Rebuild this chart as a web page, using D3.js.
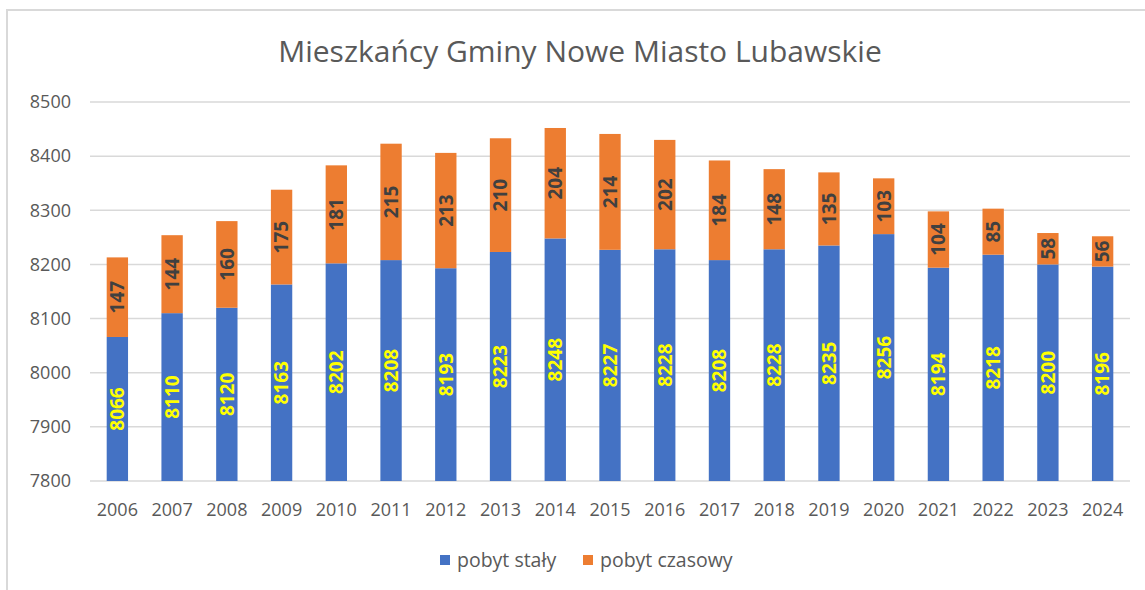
<!DOCTYPE html>
<html>
<head>
<meta charset="utf-8">
<script src="https://cdn.jsdelivr.net/npm/d3@7"></script>
<style>
  body { margin: 0; background: #fff; }
  text { font-family: "Open Sans", sans-serif; }
</style>
</head>
<body>
<div class="chart"></div>
<script>
const years = ["2006","2007","2008","2009","2010","2011","2012","2013","2014","2015","2016","2017","2018","2019","2020","2021","2022","2023","2024"];
const stale = [8066,8110,8120,8163,8202,8208,8193,8223,8248,8227,8228,8208,8228,8235,8256,8194,8218,8200,8196];
const czasowe = [147,144,160,175,181,215,213,210,204,214,202,184,148,135,103,104,85,58,56];
const yTicks = [7800,7900,8000,8100,8200,8300,8400,8500];
const seriesNames = ["pobyt stały", "pobyt czasowy"];
const colors = ["#4472C4", "#ED7D31"];

const W = 1145, H = 590;
const margin = {top: 102, left: 90, right: 15, bottom: 109};
const width = W - margin.left - margin.right,
    height = H - margin.top - margin.bottom;

const svg = d3.select(".chart")
    .append("svg")
    .attr("width", W)
    .attr("height", H);

// outer frame (only top and left edges visible in the picture)
svg.append("path")
    .attr("d", "M7,590 V10 H1145")
    .attr("fill", "none")
    .attr("stroke", "#d9d9d9")
    .attr("stroke-width", 2);

svg.append("text")
    .attr("x", 580)
    .attr("y", 62)
    .attr("text-anchor", "middle")
    .attr("font-size", 30)
    .attr("fill", "#595959")
    .text("Mieszkańcy Gminy Nowe Miasto Lubawskie");

const gr = svg.append("g")
    .attr("transform", "translate(" + margin.left + "," + margin.top + ")");

const xScale = d3.scaleBand()
    .domain(years)
    .range([0, width])
    .paddingInner(0.61)
    .paddingOuter(0.305);

const yScale = d3.scaleLinear()
    .domain([7800, 8500])
    .range([height, 0]);

// gridlines
gr.selectAll(".grid")
    .data(yTicks)
    .join("line")
    .attr("class", "grid")
    .attr("x1", 0)
    .attr("x2", width)
    .attr("y1", d => yScale(d))
    .attr("y2", d => yScale(d))
    .attr("stroke", "#d9d9d9")
    .attr("stroke-width", 1.5);

const yAxis = d3.axisLeft(yScale).tickValues(yTicks).tickSize(0).tickPadding(19).tickFormat(d3.format("d"));
const yAxGr = gr.append("g").call(yAxis);
yAxGr.select(".domain").remove();
yAxGr.selectAll("text").attr("font-size", 18).attr("fill", "#595959").attr("font-family", "Open Sans");

const xAxis = d3.axisBottom(xScale).tickSize(0).tickPadding(22);
const xAxGr = gr.append("g").attr("transform", "translate(0," + height + ")").call(xAxis);
xAxGr.select(".domain").remove();
xAxGr.selectAll("text").attr("font-size", 18).attr("fill", "#595959").attr("font-family", "Open Sans");

const data = years.map((y, i) => ({year: y, stale: stale[i], czasowe: czasowe[i]}));

const bars = gr.selectAll(".bar")
    .data(data)
    .join("g")
    .attr("class", "bar")
    .attr("transform", d => "translate(" + xScale(d.year) + ",0)");

bars.append("rect")
    .attr("x", 0)
    .attr("width", xScale.bandwidth())
    .attr("y", d => yScale(d.stale))
    .attr("height", d => yScale(7800) - yScale(d.stale))
    .attr("fill", colors[0]);

bars.append("rect")
    .attr("x", 0)
    .attr("width", xScale.bandwidth())
    .attr("y", d => yScale(d.stale + d.czasowe))
    .attr("height", d => yScale(d.stale) - yScale(d.stale + d.czasowe))
    .attr("fill", colors[1]);

const bw = xScale.bandwidth();
bars.append("text")
    .attr("transform", d => "translate(" + (bw / 2) + "," + ((yScale(7800) + yScale(d.stale)) / 2) + ") rotate(-90)")
    .attr("text-anchor", "middle")
    .attr("dy", "0.36em")
    .attr("font-family", "DejaVu Sans Mono")
    .attr("font-weight", "bold")
    .attr("font-size", 19)
    .attr("fill", "#FFFF00")
    .text(d => d.stale);

bars.append("text")
    .attr("transform", d => "translate(" + (bw / 2) + "," + ((yScale(d.stale) + yScale(d.stale + d.czasowe)) / 2) + ") rotate(-90)")
    .attr("text-anchor", "middle")
    .attr("dy", "0.36em")
    .attr("font-family", "DejaVu Sans Mono")
    .attr("font-weight", "bold")
    .attr("font-size", 19)
    .attr("fill", "#404040")
    .text(d => d.czasowe);

// legend
const legend = svg.append("g");
const legX = [440, 583];
seriesNames.forEach((name, i) => {
    legend.append("rect")
        .attr("x", legX[i])
        .attr("y", 555)
        .attr("width", 10)
        .attr("height", 10)
        .attr("fill", colors[i]);
    legend.append("text")
        .attr("x", legX[i] + 17)
        .attr("y", 567)
        .attr("font-size", 19.5)
        .attr("fill", "#595959")
        .text(name);
});
</script>
</body>
</html>
